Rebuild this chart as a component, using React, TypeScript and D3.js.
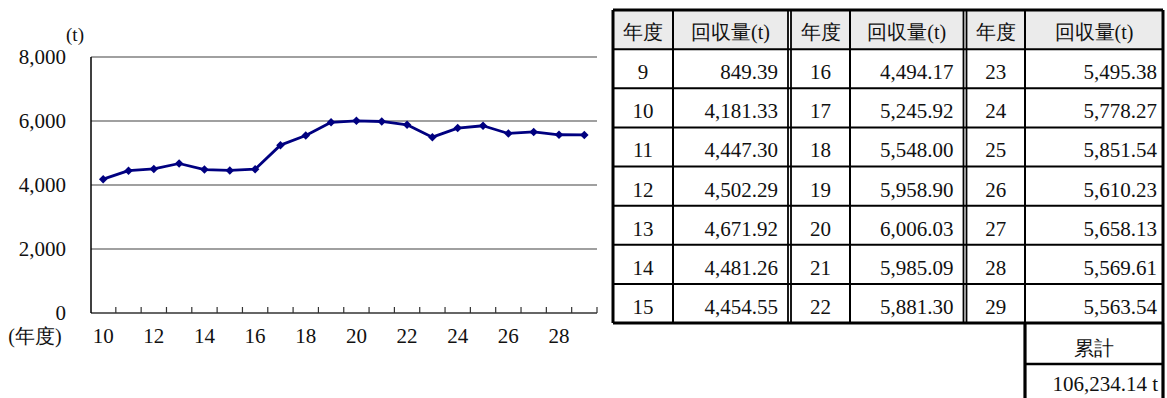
import React from "react";
import * as d3 from "d3";

// ---- data ----
const years: number[] = [10, 11, 12, 13, 14, 15, 16, 17, 18, 19, 20, 21, 22, 23, 24, 25, 26, 27, 28, 29];
const recovery: number[] = [
  4181.33, 4447.3, 4502.29, 4671.92, 4481.26, 4454.55, 4494.17, 5245.92, 5548.0, 5958.9,
  6006.03, 5985.09, 5881.3, 5495.38, 5778.27, 5851.54, 5610.23, 5658.13, 5569.61, 5563.54,
];
const yTicks: number[] = [0, 2000, 4000, 6000, 8000];
const xTickLabels: number[] = [10, 12, 14, 16, 18, 20, 22, 24, 26, 28];

const tableYears: number[] = [9, 10, 11, 12, 13, 14, 15, 16, 17, 18, 19, 20, 21, 22, 23, 24, 25, 26, 27, 28, 29];
const tableValues: number[] = [
  849.39, 4181.33, 4447.3, 4502.29, 4671.92, 4481.26, 4454.55,
  4494.17, 5245.92, 5548.0, 5958.9, 6006.03, 5985.09, 5881.3,
  5495.38, 5778.27, 5851.54, 5610.23, 5658.13, 5569.61, 5563.54,
];
const headerYear = "年度";
const headerValue = "回収量(t)";
const totalLabel = "累計";
const totalValue = 106234.14;
const yUnit = "(t)";
const xUnit = "(年度)";

const FF = "Liberation Serif";
const TS: React.CSSProperties = { fontFamily: FF };

export default function App() {
  const W = 1167;
  const H = 398;

  const x = d3.scaleBand<number>().domain(years).range([90.5, 597]);
  const y = d3.scaleLinear().domain([0, 8000]).range([313, 57]);
  const cx = (yr: number) => (x(yr) as number) + x.bandwidth() / 2;
  const line = d3
    .line<number>()
    .x((_, i) => cx(years[i]))
    .y((d) => y(d));
  const diamond = d3.symbol().type(d3.symbolDiamond2).size(46)() as string;
  const fmtAxis = d3.format(",");
  const fmtVal = d3.format(",.2f");

  const tTop = 10;
  const rowH = 39.125;
  const nRows = 7;
  const tBottom = tTop + rowH * (nRows + 1);
  const groups = [
    { x0: 613, x1: 673, x2: 788, pad: 10 },
    { x0: 791, x1: 850, x2: 963.5, pad: 10 },
    { x0: 966.5, x1: 1025, x2: 1163, pad: 6 },
  ];
  const rowTop = (r: number) => tTop + rowH * r;
  const boundaries = years.map((yr) => (x(yr) as number) + x.bandwidth());

  return (
    <svg width={W} height={H} style={{ position: "absolute", left: 0, top: 0, background: "#fff" }}>
      <style>{"svg text { font-family: 'Liberation Serif', serif !important; }"}</style>
      {/* ---------- chart ---------- */}
      {yTicks.map((t) => (
        <line key={"g" + t} x1={91} x2={597} y1={y(t)} y2={y(t)} stroke={t === 0 ? "#333" : "#808080"} strokeWidth={1.5} />
      ))}
      <line x1={91} x2={91} y1={y(8000)} y2={y(0)} stroke="#000" strokeWidth={1.5} />
      {boundaries.map((b, i) => (
        <line key={"t" + i} x1={b} x2={b} y1={y(0)} y2={y(0) - 6} stroke="#333" strokeWidth={1.2} />
      ))}
      {yTicks.map((t) => (
        <text key={"yl" + t} x={66} y={y(t)} dy="0.35em" textAnchor="end" fontSize={21} fill="#111" fontFamily={FF} style={TS}>
          {fmtAxis(t)}
        </text>
      ))}
      <text x={75} y={41} textAnchor="middle" fontSize={19} fill="#111" fontFamily={FF} style={TS}>{yUnit}</text>
      {xTickLabels.map((t) => (
        <text key={"xl" + t} x={cx(t)} y={343} textAnchor="middle" fontSize={21} fill="#111" fontFamily={FF} style={TS}>
          {t}
        </text>
      ))}
      <text x={35} y={343} textAnchor="middle" fontSize={20} fill="#111" fontFamily={FF} style={TS}>{xUnit}</text>
      <path d={line(recovery) as string} fill="none" stroke="#000080" strokeWidth={2.8} strokeLinejoin="round" />
      {recovery.map((v, i) => (
        <path key={"m" + i} d={diamond} transform={`translate(${cx(years[i])},${y(v)})`} fill="#000080" />
      ))}

      {/* ---------- table ---------- */}
      {groups.map((g, gi) => (
        <g key={"grp" + gi}>
          <rect x={g.x0} y={tTop} width={g.x2 - g.x0} height={rowH} fill="#ebebeb" />
          <text x={(g.x0 + g.x1) / 2} y={rowTop(0) + 29} textAnchor="middle" fontSize={20} fill="#111" fontFamily={FF} style={TS}>{headerYear}</text>
          <text x={(g.x1 + g.x2) / 2} y={rowTop(0) + 29} textAnchor="middle" fontSize={20} fill="#111" fontFamily={FF} style={TS}>{headerValue}</text>
          {d3.range(nRows).map((r) => {
            const idx = gi * nRows + r;
            return (
              <g key={"r" + r}>
                <text x={(g.x0 + g.x1) / 2} y={rowTop(r + 1) + 30} textAnchor="middle" fontSize={21} fill="#111" fontFamily={FF} style={TS}>
                  {tableYears[idx]}
                </text>
                <text x={g.x2 - g.pad} y={rowTop(r + 1) + 30} textAnchor="end" fontSize={21} fill="#111" fontFamily={FF} style={TS}>
                  {fmtVal(tableValues[idx])}
                </text>
              </g>
            );
          })}
          <line x1={g.x0} x2={g.x0} y1={tTop} y2={tBottom} stroke="#000" strokeWidth={gi === 0 ? 3 : 1.8} />
          <line x1={g.x1} x2={g.x1} y1={tTop} y2={tBottom} stroke="#000" strokeWidth={2} />
          <line x1={g.x2} x2={g.x2} y1={tTop} y2={tBottom} stroke="#000" strokeWidth={gi === 2 ? 3 : 1.8} />
        </g>
      ))}
      {d3.range(nRows + 2).map((r) => (
        <line
          key={"h" + r}
          x1={613}
          x2={1163}
          y1={rowTop(r)}
          y2={rowTop(r)}
          stroke="#000"
          strokeWidth={r === 0 || r === nRows + 1 ? 3 : 2}
        />
      ))}

      {/* total box */}
      <line x1={1025} x2={1025} y1={tBottom} y2={H} stroke="#000" strokeWidth={3.2} />
      <line x1={1163} x2={1163} y1={tBottom} y2={H} stroke="#000" strokeWidth={3.2} />
      <line x1={1025} x2={1163} y1={364} y2={364} stroke="#000" strokeWidth={2.5} />
      <text x={1094} y={355} textAnchor="middle" fontSize={20} fill="#111" fontFamily={FF} style={TS}>{totalLabel}</text>
      <text x={1158} y={391} textAnchor="end" fontSize={21} fill="#111" fontFamily={FF} style={TS}>{fmtVal(totalValue) + " t"}</text>
    </svg>
  );
}
